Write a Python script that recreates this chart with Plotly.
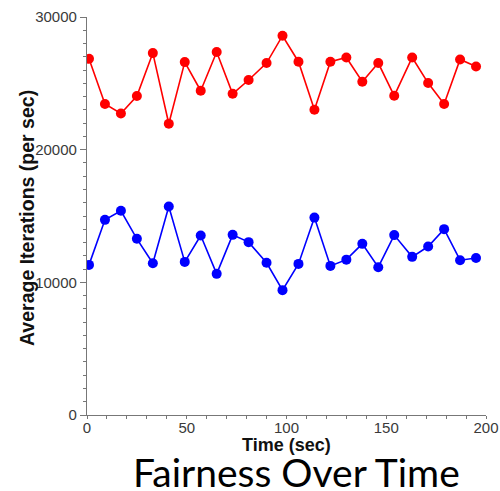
import plotly.graph_objects as go

# Sample times (seconds) and average iteration rates for the two processes
time_sec = [1, 9, 17, 25, 33, 41, 49, 57, 65, 73, 81, 90, 98,
            106, 114, 122, 130, 138, 146, 154, 163, 171, 179, 187, 195]
proc_a = [26850, 23440, 22730, 24040, 27280, 21950, 26600, 24440, 27360,
          24210, 25250, 26530, 28590, 26630, 23010, 26630, 26950, 25120,
          26530, 24060, 26950, 25020, 23440, 26800, 26270]
proc_b = [11315, 14710, 15390, 13280, 11440, 15710, 11540, 13530, 10640,
          13580, 13030, 11470, 9410, 11390, 14880, 11240, 11710, 12900,
          11140, 13560, 11920, 12700, 14010, 11670, 11840]

x_ticks = [0, 50, 100, 150, 200]
y_ticks = [0, 10000, 20000, 30000]

tick_font = dict(family="Liberation Sans, Arial, sans-serif", size=15, color="#3a3a3a")

fig = go.Figure()
for vals, col in [(proc_a, "#ff0000"), (proc_b, "#0000ff")]:
    fig.add_trace(go.Scatter(
        x=time_sec, y=vals, mode="lines+markers",
        line=dict(color=col, width=1.6),
        marker=dict(color=col, size=10),
        showlegend=False,
    ))

axis_common = dict(
    showgrid=False, zeroline=False, showline=True,
    linecolor="#777777", linewidth=1.2,
    ticks="outside", tickwidth=1.2, tickcolor="#777777",
    tickfont=tick_font,
)

fig.update_xaxes(range=[0, 200], tickvals=x_ticks, ticktext=[str(v) for v in x_ticks],
                 ticklen=3, ticklabelstandoff=-4,
                 minor=dict(dtick=10, ticks="outside", ticklen=3, tickwidth=1, tickcolor="#777777"),
                 **axis_common)
fig.update_yaxes(range=[0, 30000], tickvals=y_ticks, ticktext=[str(v) for v in y_ticks],
                 ticklen=6,
                 minor=dict(dtick=1000, ticks="outside", ticklen=3, tickwidth=1, tickcolor="#777777"),
                 **axis_common)

# axis titles and the caption under the chart
fig.add_annotation(text="<b>Time (sec)</b>", xref="paper", yref="paper",
                   x=0.5, y=0, yshift=-30, xanchor="center", yanchor="middle",
                   showarrow=False,
                   font=dict(family="Liberation Sans, Arial, sans-serif", size=18, color="#111111"))
fig.add_annotation(text="<b>Average Iterations (per sec)</b>", xref="paper", yref="paper",
                   x=0, xshift=-60, y=0.495, xanchor="center", yanchor="middle", textangle=-90,
                   showarrow=False,
                   font=dict(family="Liberation Sans, Arial, sans-serif", size=19.5, color="#111111"))
fig.add_annotation(text="Fairness Over Time", xref="paper", yref="paper",
                   x=0, xshift=209.5, y=0, yshift=-57, xanchor="center", yanchor="middle",
                   showarrow=False,
                   font=dict(family="Lato, Open Sans, sans-serif", size=39, color="#000000"))

fig.update_layout(
    width=500, height=491,
    margin=dict(l=87, r=14, t=17, b=76, autoexpand=False),
    plot_bgcolor="white", paper_bgcolor="white",
)

fig.write_html("out.html")
